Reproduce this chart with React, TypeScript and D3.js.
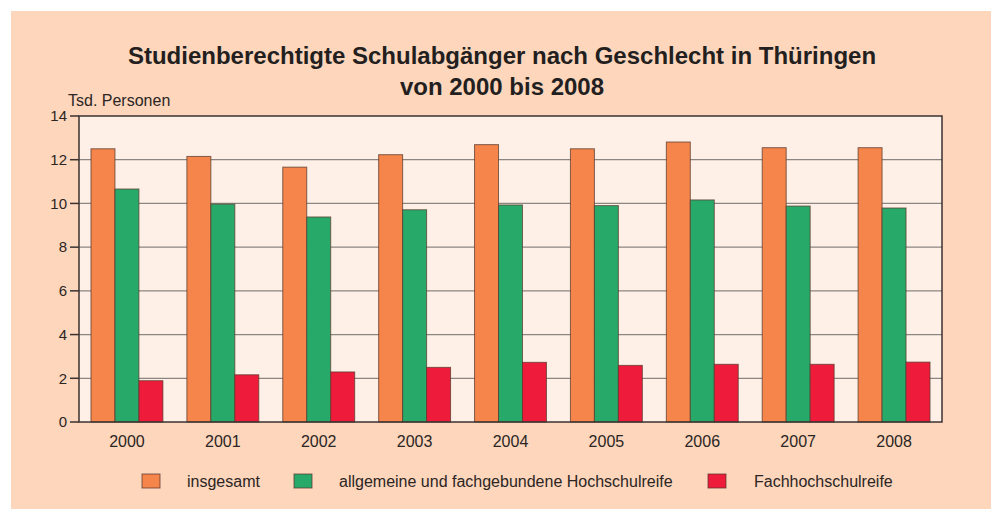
import React from 'react';
import * as d3 from 'd3';

const years = ['2000', '2001', '2002', '2003', '2004', '2005', '2006', '2007', '2008'];
const insgesamt = [12.5, 12.15, 11.66, 12.23, 12.69, 12.5, 12.81, 12.55, 12.55];
const hochschulreife = [10.66, 9.97, 9.38, 9.71, 9.93, 9.9, 10.16, 9.88, 9.79];
const fachhochschulreife = [1.89, 2.16, 2.29, 2.5, 2.73, 2.59, 2.64, 2.64, 2.74];
const yTicks = [0, 2, 4, 6, 8, 10, 12, 14];

const seriesNames = ['insgesamt', 'allgemeine und fachgebundene Hochschulreife', 'Fachhochschulreife'];
const seriesColors = ['#F5854A', '#27AA69', '#EE1B3B'];

const W = 991;
const H = 509;
const margin = { top: 116, right: 49, bottom: 87, left: 79 };

const App: React.FC = () => {
    const innerW = W - margin.left - margin.right;
    const innerH = H - margin.top - margin.bottom;
    const series = [insgesamt, hochschulreife, fachhochschulreife];

    const x = d3.scaleBand().domain(years).range([margin.left, margin.left + innerW]).paddingInner(0.25).paddingOuter(0.125);
    const xSub = d3.scaleBand().domain(['0', '1', '2']).range([0, x.bandwidth()]);
    const y = d3.scaleLinear().domain([0, 14]).range([margin.top + innerH, margin.top]);

    const font = '"Liberation Sans", Arial, sans-serif';
    const textColor = '#2b2523';

    // legend layout: square x, text x
    const legendItems = [
        { sq: 142, tx: 187 },
        { sq: 294, tx: 339 },
        { sq: 708, tx: 754 },
    ];

    return (
        <svg width={W} height={H} style={{ position: 'absolute', left: 0, top: 0 }} fontFamily={font}>
            <rect x={0} y={0} width={W} height={H} fill="#ffffff" />
            <rect x={11} y={11} width={W - 11} height={H - 11} fill="#FDD6BC" />

            <text x={502} y={64} textAnchor="middle" fontSize={24} fontWeight="bold" fill="#231f20">
                Studienberechtigte Schulabgänger nach Geschlecht in Thüringen
            </text>
            <text x={502} y={95} textAnchor="middle" fontSize={24} fontWeight="bold" fill="#231f20">
                von 2000 bis 2008
            </text>

            <rect x={margin.left} y={margin.top} width={innerW} height={innerH} fill="#FEF0E6" />

            {/* grid lines */}
            {yTicks.filter(t => t > 0 && t < 14).map(t => (
                <line key={'g' + t} x1={margin.left} x2={margin.left + innerW} y1={y(t)} y2={y(t)} stroke="#8c8683" strokeWidth={1.2} />
            ))}

            {/* bars */}
            {years.map((yr, i) => (
                <g key={yr} transform={`translate(${x(yr)},0)`}>
                    {series.map((s, k) => (
                        <rect
                            key={k}
                            x={xSub(String(k))}
                            y={y(s[i])}
                            width={xSub.bandwidth()}
                            height={y(0) - y(s[i])}
                            fill={seriesColors[k]}
                            stroke="#5a3a2e"
                            strokeOpacity={0.75}
                            strokeWidth={1}
                        />
                    ))}
                </g>
            ))}

            {/* frame */}
            <rect x={margin.left} y={margin.top} width={innerW} height={innerH} fill="none" stroke="#3a3230" strokeWidth={1.5} />

            {/* y axis ticks */}
            {yTicks.map(t => (
                <g key={'t' + t}>
                    <line x1={margin.left - 9} x2={margin.left} y1={y(t)} y2={y(t)} stroke="#3a3230" strokeWidth={1.5} />
                    <text x={margin.left - 12} y={y(t)} dy="0.35em" textAnchor="end" fontSize={15} fill={textColor}>{t}</text>
                </g>
            ))}
            <text x={68} y={106} fontSize={16} fill={textColor}>Tsd. Personen</text>

            {/* x labels */}
            {years.map(yr => (
                <text key={'x' + yr} x={(x(yr) ?? 0) + x.bandwidth() / 2} y={447} textAnchor="middle" fontSize={16} fill={textColor}>{yr}</text>
            ))}

            {/* legend */}
            {seriesNames.map((n, k) => (
                <g key={n}>
                    <rect x={legendItems[k].sq} y={474} width={18} height={14} fill={seriesColors[k]} stroke="#5a3a2e" strokeOpacity={0.75} />
                    <text x={legendItems[k].tx} y={487} fontSize={16} fill={textColor}>{n}</text>
                </g>
            ))}
        </svg>
    );
};

export default App;
